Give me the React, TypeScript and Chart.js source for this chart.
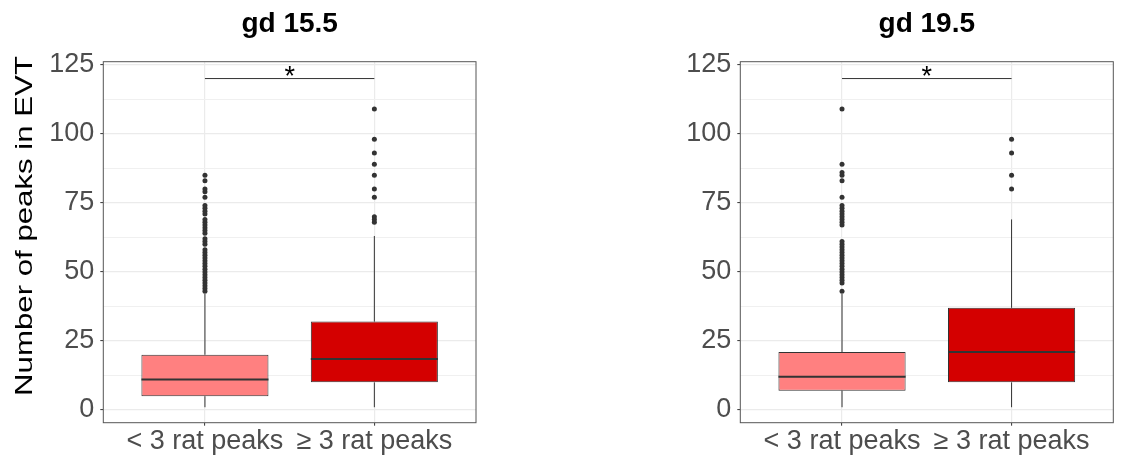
import React, { useEffect, useRef } from 'react';
import { Chart, registerables } from 'chart.js';

Chart.register(...registerables);

const FONT = '"Liberation Sans", Arial, Helvetica, sans-serif';

// Shared categories, colours and axis values
const GROUPS = ['< 3 rat peaks', '≥ 3 rat peaks'];
const BOX_FILLS = ['#FF8080', '#D40000'];
const Y_TITLE = 'Number of peaks in EVT';
const Y_MAJOR_TICKS = [0, 25, 50, 75, 100, 125];
const Y_MINOR_TICKS = [12.5, 37.5, 62.5, 87.5, 112.5];
const Y_RANGE = [-4.6, 126.1];
const SIGNIF_LABEL = '*';

// gd 15.5 — five-number summaries per group
const gd155Lower = [1, 1];
const gd155Q1 = [5, 10];
const gd155Median = [11, 18.5];
const gd155Q3 = [20, 32];
const gd155Upper = [42, 63];
const gd155OutliersFew = [
  43, 44, 45, 46, 47, 48, 49, 50, 51, 52, 53, 54, 55, 56, 57, 58, 60, 61, 62,
  64, 65, 66, 67, 68, 69, 71, 72, 73, 74, 77, 79, 80, 83, 85,
];
const gd155OutliersMany = [68, 69, 70, 77, 80, 85, 89, 93, 98, 109];
const gd155Signif = 120;

// gd 19.5 — five-number summaries per group
const gd195Lower = [1, 1];
const gd195Q1 = [7, 10];
const gd195Median = [12, 21];
const gd195Q3 = [21, 37];
const gd195Upper = [42, 69];
const gd195OutliersFew = [
  43, 46, 47, 48, 49, 50, 51, 52, 53, 54, 55, 56, 57, 58, 59, 60, 61,
  67, 68, 69, 70, 71, 72, 73, 74, 77, 83, 85, 86, 89, 109,
];
const gd195OutliersMany = [80, 85, 93, 98];
const gd195Signif = 120;

const BOX_WIDTH = 0.75;
const INK = '#333333';
const GRID = '#EBEBEB';
const TICK_TEXT = '#4D4D4D';
const CANVAS_H = 460;
const X_AXIS_H = 37.3;
const Y_TITLE_STRETCH = 1.3;

type PanelSpec = {
  title: string;
  lower: number[];
  q1: number[];
  median: number[];
  q3: number[];
  upper: number[];
  outliers: number[][];
  signif: number;
  showYTitle: boolean;
  canvasLeft: number;
  canvasWidth: number;
  axisWidth: number;
  padRight: number;
};

const PANELS: PanelSpec[] = [
  {
    title: 'gd 15.5',
    lower: gd155Lower,
    q1: gd155Q1,
    median: gd155Median,
    q3: gd155Q3,
    upper: gd155Upper,
    outliers: [gd155OutliersFew, gd155OutliersMany],
    signif: gd155Signif,
    showYTitle: true,
    canvasLeft: 0,
    canvasWidth: 560,
    axisWidth: 103.3,
    padRight: 84,
  },
  {
    title: 'gd 19.5',
    lower: gd195Lower,
    q1: gd195Q1,
    median: gd195Median,
    q3: gd195Q3,
    upper: gd195Upper,
    outliers: [gd195OutliersFew, gd195OutliersMany],
    signif: gd195Signif,
    showYTitle: false,
    canvasLeft: 560,
    canvasWidth: 561,
    axisWidth: 180.3,
    padRight: 7.7,
  },
];

const isMajor = (v: number) => Y_MAJOR_TICKS.includes(v);

function buildConfig(p: PanelSpec): any {
  const half = BOX_WIDTH / 2;
  const boxes = GROUPS.map((_, i) => ({ x: i + 1, y: [p.q1[i], p.q3[i]] }));
  const medians = GROUPS.flatMap((_, i) => [
    { x: i + 1 - half, y: p.median[i] },
    { x: i + 1 + half, y: p.median[i] },
    { x: i + 1.5, y: null },
  ]);
  const whiskers = GROUPS.flatMap((_, i) => [
    { x: i + 1, y: p.lower[i] },
    { x: i + 1, y: p.q1[i] },
    { x: i + 1, y: null },
    { x: i + 1, y: p.q3[i] },
    { x: i + 1, y: p.upper[i] },
    { x: i + 1, y: null },
  ]);
  const outliers = p.outliers.flatMap((vals, i) => vals.map((v) => ({ x: i + 1, y: v })));
  const bracket = [
    { x: 1, y: p.signif },
    { x: GROUPS.length, y: p.signif },
  ];

  const panelBorder = {
    id: 'panelBorder',
    afterDraw(chart: any) {
      const { ctx, chartArea: a } = chart;
      ctx.save();
      ctx.strokeStyle = '#555555';
      ctx.lineWidth = 1;
      ctx.strokeRect(a.left, a.top, a.right - a.left, a.bottom - a.top);
      ctx.restore();
    },
  };

  const signifText = {
    id: 'signifText',
    afterDatasetsDraw(chart: any) {
      const { ctx } = chart;
      const xs = chart.scales.x;
      const ys = chart.scales.y;
      ctx.save();
      ctx.fillStyle = '#000000';
      ctx.font = `27px ${FONT}`;
      ctx.textAlign = 'center';
      ctx.textBaseline = 'middle';
      ctx.fillText(SIGNIF_LABEL, xs.getPixelForValue((1 + GROUPS.length) / 2), ys.getPixelForValue(p.signif) - 1);
      ctx.restore();
    },
  };

  const yTitle = {
    id: 'yTitle',
    afterDraw(chart: any) {
      if (!p.showYTitle) return;
      const { ctx } = chart;
      ctx.save();
      ctx.translate(25, 226);
      ctx.rotate(-Math.PI / 2);
      ctx.scale(Y_TITLE_STRETCH, 1);
      ctx.fillStyle = '#000000';
      ctx.font = `24px ${FONT}`;
      ctx.textAlign = 'center';
      ctx.textBaseline = 'middle';
      ctx.fillText(Y_TITLE, 0, 0);
      ctx.restore();
    },
  };

  return {
    type: 'bar',
    data: {
      datasets: [
        {
          type: 'line',
          data: whiskers,
          borderColor: INK,
          borderWidth: 1,
          pointRadius: 0,
          pointHoverRadius: 0,
          spanGaps: false,
          order: 4,
        },
        {
          type: 'bar',
          data: boxes,
          backgroundColor: BOX_FILLS,
          borderColor: INK,
          borderWidth: 1,
          borderSkipped: false,
          barPercentage: BOX_WIDTH,
          categoryPercentage: 1,
          order: 3,
        },
        {
          type: 'line',
          data: medians,
          borderColor: INK,
          borderWidth: 2,
          pointRadius: 0,
          pointHoverRadius: 0,
          spanGaps: false,
          order: 2,
        },
        {
          type: 'scatter',
          data: outliers,
          pointRadius: 2.5,
          pointHoverRadius: 2.5,
          backgroundColor: INK,
          borderWidth: 0,
          order: 1,
        },
        {
          type: 'line',
          data: bracket,
          borderColor: INK,
          borderWidth: 1,
          pointRadius: 0,
          pointHoverRadius: 0,
          order: 1,
        },
      ],
    },
    options: {
      responsive: false,
      animation: false,
      devicePixelRatio: 1,
      events: [],
      layout: { padding: { left: 0, right: p.padRight, top: 0, bottom: 0 } },
      plugins: {
        legend: { display: false },
        tooltip: { enabled: false },
        title: {
          display: true,
          text: p.title,
          fullSize: false,
          color: '#000000',
          font: { family: FONT, size: 28, weight: 'bold', lineHeight: 1.2 },
          padding: { top: 7.4, bottom: 20.7 },
        },
      },
      scales: {
        x: {
          type: 'linear',
          min: 0.4,
          max: GROUPS.length + 0.6,
          offset: false,
          afterBuildTicks: (s: any) => {
            s.ticks = GROUPS.map((_, i) => ({ value: i + 1 }));
          },
          afterFit: (s: any) => {
            s.height = X_AXIS_H;
          },
          ticks: {
            autoSkip: false,
            maxRotation: 0,
            minRotation: 0,
            padding: 0,
            color: TICK_TEXT,
            font: { family: FONT, size: 27 },
            callback: (v: number) => GROUPS[Math.round(v) - 1] ?? '',
          },
          grid: {
            offset: false,
            color: GRID,
            lineWidth: 1.2,
            drawTicks: true,
            tickLength: 3,
            tickColor: INK,
            tickWidth: 1,
          },
          border: { display: false },
        },
        y: {
          type: 'linear',
          min: Y_RANGE[0],
          max: Y_RANGE[1],
          afterBuildTicks: (s: any) => {
            s.ticks = [...Y_MAJOR_TICKS, ...Y_MINOR_TICKS]
              .sort((a, b) => a - b)
              .map((v) => ({ value: v }));
          },
          afterFit: (s: any) => {
            s.width = p.axisWidth;
          },
          ticks: {
            autoSkip: false,
            padding: 6,
            color: TICK_TEXT,
            font: { family: FONT, size: 27 },
            callback: (v: number) => (isMajor(v) ? String(v) : ''),
          },
          grid: {
            color: (c: any) => (c.tick && isMajor(c.tick.value) ? GRID : '#F0F0F0'),
            lineWidth: (c: any) => (c.tick && isMajor(c.tick.value) ? 1.2 : 1),
            drawTicks: true,
            tickLength: 3,
            tickColor: (c: any) => (c.tick && isMajor(c.tick.value) ? INK : 'rgba(0,0,0,0)'),
            tickWidth: 1,
          },
          border: { display: false },
        },
      },
    },
    plugins: [panelBorder, signifText, yTitle],
  };
}

function BoxPanel({ panel }: { panel: PanelSpec }) {
  const ref = useRef<HTMLCanvasElement>(null);
  useEffect(() => {
    if (!ref.current) return;
    const chart = new Chart(ref.current, buildConfig(panel));
    return () => chart.destroy();
  }, [panel]);
  return (
    <canvas
      ref={ref}
      width={panel.canvasWidth}
      height={CANVAS_H}
      style={{
        position: 'absolute',
        left: panel.canvasLeft,
        top: 0,
        width: panel.canvasWidth,
        height: CANVAS_H,
        display: 'block',
      }}
    />
  );
}

export default function App() {
  return (
    <div
      style={{
        position: 'absolute',
        left: 0,
        top: 0,
        width: 1121,
        height: CANVAS_H,
        background: '#ffffff',
        overflow: 'hidden',
      }}
    >
      {PANELS.map((p) => (
        <BoxPanel key={p.title} panel={p} />
      ))}
    </div>
  );
}
